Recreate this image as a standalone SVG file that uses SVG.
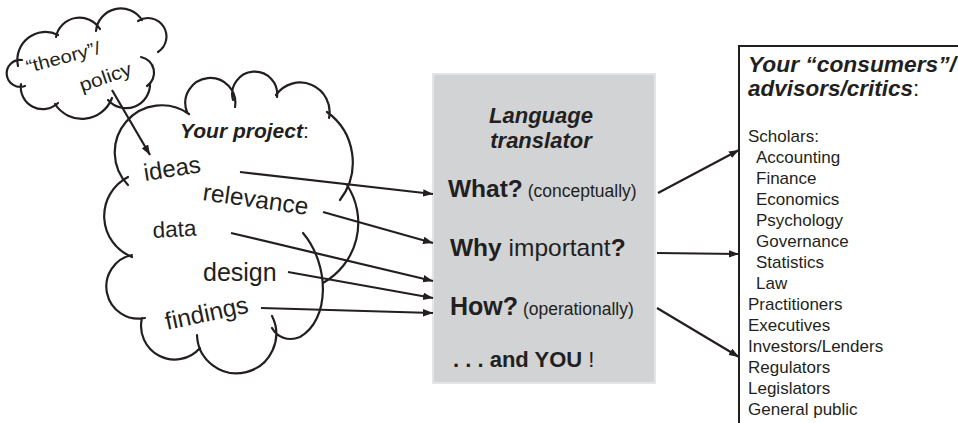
<svg xmlns="http://www.w3.org/2000/svg" width="958" height="423" viewBox="0 0 958 423">
<defs>
<marker id="ah" markerUnits="userSpaceOnUse" markerWidth="12" markerHeight="9" refX="10" refY="3.75" orient="auto"><path d="M0,0 L10,3.75 L0,7.5 z" fill="#231f20"/></marker>
<style>
.t{font-family:"Liberation Sans",Arial,sans-serif;fill:#231f20}
.bi{font-weight:bold;font-style:italic}
.b{font-weight:bold}
.cl{fill:none;stroke:#231f20;stroke-width:2.2;stroke-linecap:round}
.ar{fill:none;stroke:#231f20;stroke-width:2.2;marker-end:url(#ah)}
</style>
</defs>
<rect width="958" height="423" fill="#ffffff"/>

<g id="theory-cloud">
<path class="cl" d="M25,86 A13.5 13.5 0 1 1 22,60 M18,66 A28 28 0 0 1 58,35 M56,37 A24 24 0 0 1 100,29 M96,31 A25 25 0 0 1 142,20 M138,21 A18 18 0 0 1 158,52 M141,57 A16 16 0 0 1 147,86 M150,83 A24 24 0 0 1 108,100 M112,98 A32 32 0 0 1 55,104 M58,103 A22 22 0 0 1 21,84"/>
<text class="t" font-size="18" transform="translate(28,73) rotate(-15)" textLength="76" lengthAdjust="spacingAndGlyphs">“theory”/</text>
<text class="t" font-size="19" transform="translate(82,92) rotate(-19)" textLength="54" lengthAdjust="spacingAndGlyphs">policy</text>
</g>

<g id="project-cloud">
<path class="cl" d="M132,257 A44 44 0 0 1 128,177 M128,185 A47 47 0 0 1 189,114 M187,112 A25 25 0 1 1 235,107 M233,100 A22.5 22.5 0 1 1 277,97 M276,95 A29.5 29.5 0 0 1 329,118 M327,112 A62 62 0 0 1 340,200 M347,185 A69 69 0 0 1 323,283 M303,233 C330,265 330,320 300,337 C288,342 277,337 272,328 M272,316 A39.6 39.6 0 1 1 197,335 M200,348 A33.6 33.6 0 0 1 142,318 M145,318 A31 31 0 0 1 132,255"/>
<text class="t" font-size="21" x="180" y="138"><tspan class="bi">Your project</tspan>:</text>
<text class="t" font-size="24" transform="translate(145,181) rotate(-9)">ideas</text>
<text class="t" font-size="24.5" transform="translate(202,200) rotate(8)">relevance</text>
<text class="t" font-size="22.5" transform="translate(153,238) rotate(-3)">data</text>
<text class="t" font-size="25" x="203" y="281">design</text>
<text class="t" font-size="24.5" transform="translate(167,330) rotate(-12)">findings</text>
</g>

<g id="translator">
<rect x="433" y="74" width="222" height="309" fill="#d1d3d4" stroke="#e4e5e6" stroke-width="2"/>
<text class="t bi" font-size="22" x="541" y="123" text-anchor="middle">Language</text>
<text class="t bi" font-size="22" x="541" y="148" text-anchor="middle">translator</text>
<text class="t" x="448" y="197"><tspan class="b" font-size="24.5">What?</tspan><tspan font-size="17.5"> (conceptually)</tspan></text>
<text class="t" font-size="24.5" x="450" y="256"><tspan class="b">Why</tspan> important<tspan class="b">?</tspan></text>
<text class="t" x="450" y="315"><tspan class="b" font-size="25">How?</tspan><tspan font-size="17.5"> (operationally)</tspan></text>
<text class="t" font-size="22" x="453" y="367"><tspan class="b">. . . and YOU</tspan> !</text>
</g>

<g id="consumers">
<rect x="739" y="46" width="240" height="400" fill="#ffffff" stroke="#231f20" stroke-width="2"/>
<text class="t bi" font-size="22.5" x="748" y="72" textLength="208" lengthAdjust="spacingAndGlyphs">Your “consumers”/</text>
<text class="t" font-size="22.5" x="748" y="96"><tspan class="bi">advisors/critics</tspan>:</text>
<g class="t" font-size="17">
<text x="748" y="142">Scholars:</text>
<text x="756" y="163">Accounting</text>
<text x="756" y="184">Finance</text>
<text x="756" y="205">Economics</text>
<text x="756" y="226">Psychology</text>
<text x="756" y="247">Governance</text>
<text x="756" y="268">Statistics</text>
<text x="756" y="289">Law</text>
<text x="748" y="310">Practitioners</text>
<text x="748" y="331">Executives</text>
<text x="748" y="352">Investors/Lenders</text>
<text x="748" y="373">Regulators</text>
<text x="748" y="394">Legislators</text>
<text x="748" y="415">General public</text>
</g>
</g>

<g id="connectors">
<path class="ar" d="M112,90 L150,155"/>
<path class="ar" d="M240,172 L433,194"/>
<path class="ar" d="M323,212 L433,243"/>
<path class="ar" d="M231,233 L433,281"/>
<path class="ar" d="M288,272 L433,298"/>
<path class="ar" d="M261,308 L433,313"/>
<path class="ar" d="M658,193 L739,150"/>
<path class="ar" d="M657,253 L739,254"/>
<path class="ar" d="M657,308 L739,357"/>
</g>
</svg>
